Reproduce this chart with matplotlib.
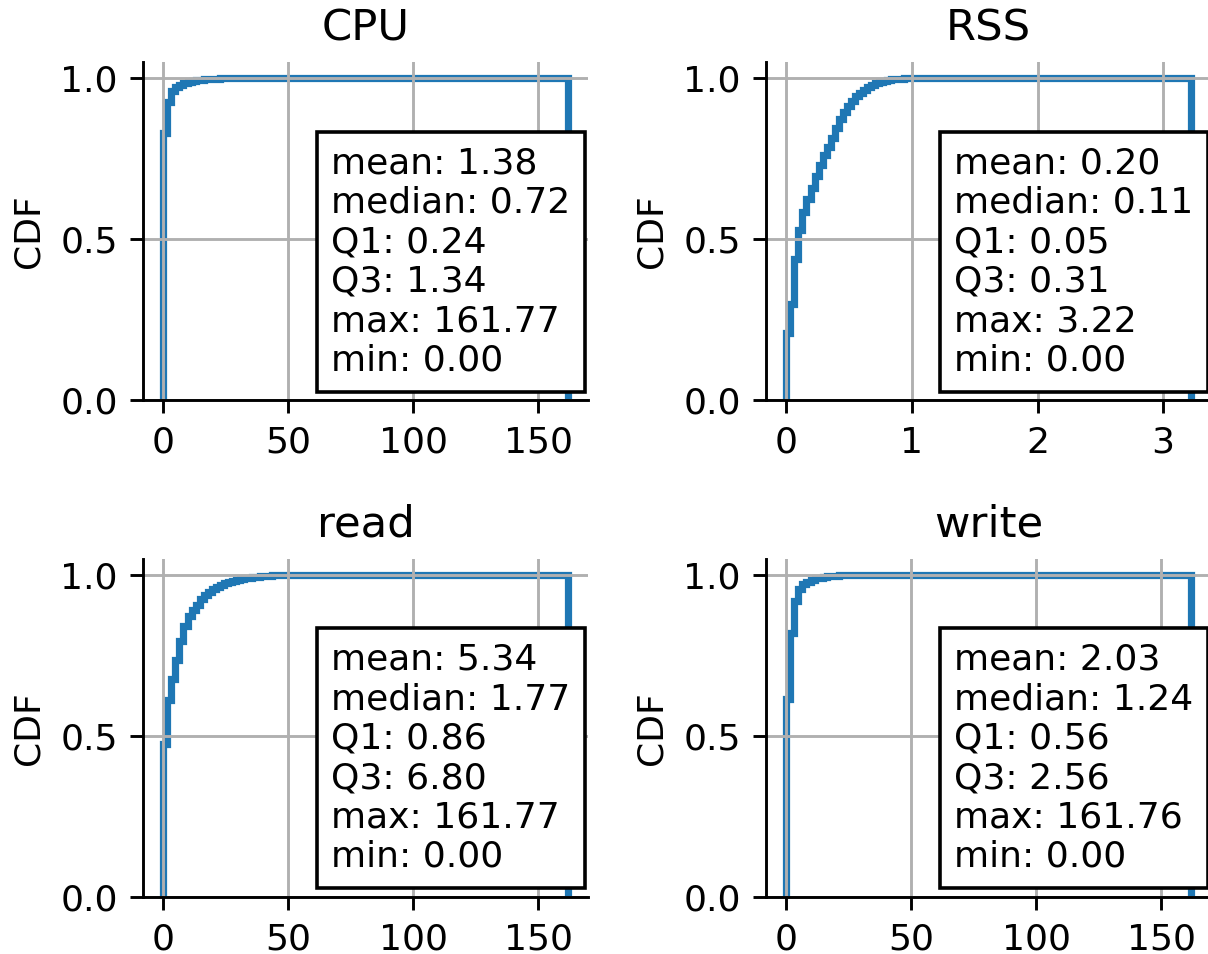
import numpy as np
import matplotlib.pyplot as plt

# -------------------------
# Data
# -------------------------
titles = ['CPU', 'RSS', 'read', 'write']
x_min = [0.0, 0.0, 0.0, 0.0]
x_max = [161.77, 3.22, 161.77, 161.76]
n_bins = 100

# cumulative fraction at the right edge of each bin (rising part; the rest is 1.0)
cdf_cpu = [0.83, 0.925, 0.96, 0.972, 0.98, 0.985, 0.989, 0.992, 0.994,
           0.995, 0.996, 0.997, 0.998, 0.998, 0.999]
cdf_rss = [0.21, 0.30, 0.44, 0.53, 0.585, 0.625, 0.66, 0.695, 0.73, 0.76,
           0.787, 0.815, 0.845, 0.872, 0.895, 0.915, 0.93, 0.943, 0.955,
           0.964, 0.973, 0.98, 0.985, 0.989, 0.992, 0.994, 0.996, 0.997,
           0.998, 0.999]
cdf_read = [0.475, 0.61, 0.675, 0.735, 0.795, 0.84, 0.872, 0.89, 0.906,
            0.925, 0.937, 0.947, 0.955, 0.962, 0.968, 0.973, 0.977, 0.981,
            0.984, 0.987, 0.989, 0.991, 0.993, 0.994, 0.995, 0.996, 0.997,
            0.998, 0.998, 0.999]
cdf_write = [0.615, 0.82, 0.918, 0.955, 0.97, 0.978, 0.984, 0.988, 0.991,
             0.993, 0.995, 0.996, 0.997, 0.998, 0.999]

stat_names = ['mean', 'median', 'Q1', 'Q3', 'max', 'min']
stats_cpu = [1.38, 0.72, 0.24, 1.34, 161.77, 0.00]
stats_rss = [0.20, 0.11, 0.05, 0.31, 3.22, 0.00]
stats_read = [5.34, 1.77, 0.86, 6.80, 161.77, 0.00]
stats_write = [2.03, 1.24, 0.56, 2.56, 161.76, 0.00]

cdfs = [cdf_cpu, cdf_rss, cdf_read, cdf_write]
stats = [stats_cpu, stats_rss, stats_read, stats_write]

# -------------------------
# Plot
# -------------------------
dpi = 260
fig, axes = plt.subplots(2, 2, figsize=(1208 / dpi, 954 / dpi), dpi=dpi)
fig.subplots_adjust(left=0.1184, right=1.0025, top=0.935, bottom=0.0598,
                    wspace=0.40, hspace=0.467)

for ax, title, lo, hi, cdf, st in zip(axes.flat, titles, x_min, x_max, cdfs, stats):
    edges = np.linspace(lo, hi, n_bins + 1)
    vals = np.array(cdf + [1.0] * (n_bins - len(cdf)))
    ax.stairs(vals, edges, baseline=0, color='C0', lw=2)

    ax.set_title(title)
    ax.set_ylabel('CDF')
    ax.set_yticks([0.0, 0.5, 1.0])
    ax.grid(True)
    ax.spines['top'].set_visible(False)
    ax.spines['right'].set_visible(False)

    txt = '\n'.join('{}: {:.2f}'.format(n, v) for n, v in zip(stat_names, st))
    ax.text(0.961, 0.068, txt, transform=ax.transAxes, ha='right', va='bottom',
            multialignment='left',
            bbox=dict(facecolor='white', edgecolor='black'))

fig.savefig('out.png', dpi=dpi)
